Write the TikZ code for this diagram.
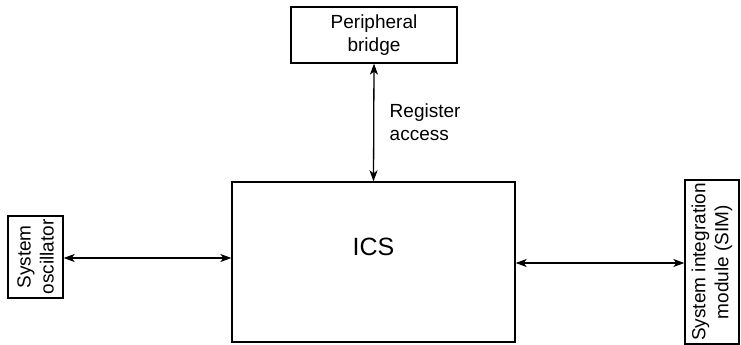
\documentclass[tikz,border=0pt]{standalone}
\usepackage{fontspec}
\setmainfont{Liberation Sans}
\usetikzlibrary{arrows.meta,positioning}

\begin{document}
\begin{tikzpicture}[x=1pt,y=1pt,
	blockbox/.style={draw,line width=1.3pt,align=center,inner sep=0pt,
		font=\fontsize{19}{23}\selectfont},
	linkarrow/.style={line width=1.3pt,{Stealth[length=11pt,width=8pt,inset=3pt]}-{Stealth[length=11pt,width=8pt,inset=3pt]}}
	]

%% page frame, 1pt per pixel of the reference
\useasboundingbox (0,0) rectangle (741,345);

%% blocks
\node[blockbox,minimum width=166pt,minimum height=56pt] (bridge) at (374,310) {Peripheral\\bridge};
\node[blockbox,minimum width=283pt,minimum height=160pt] (ics) at (373.5,83) {};
\node[font=\fontsize{25}{28}\selectfont] (icslabel) at (373.5,98) {ICS};
\node[blockbox,rotate=90,minimum width=82pt,minimum height=55pt] (osc) at (35.5,88) {System\\oscillator};
\node[blockbox,rotate=90,minimum width=164pt,minimum height=54pt] (sim) at (712,83) {System integration\\module (SIM)};

%% connections
\draw[linkarrow] (bridge.south) -- (ics.north)
	node[midway,right=12pt,align=left,font=\fontsize{19}{23}\selectfont] (regacc) {Register\\access};
\draw[linkarrow] (osc.south |- 0,87) -- (ics.west |- 0,87);
\draw[linkarrow] (ics.east |- 0,82) -- (sim.north |- 0,82);

\end{tikzpicture}
\end{document}
